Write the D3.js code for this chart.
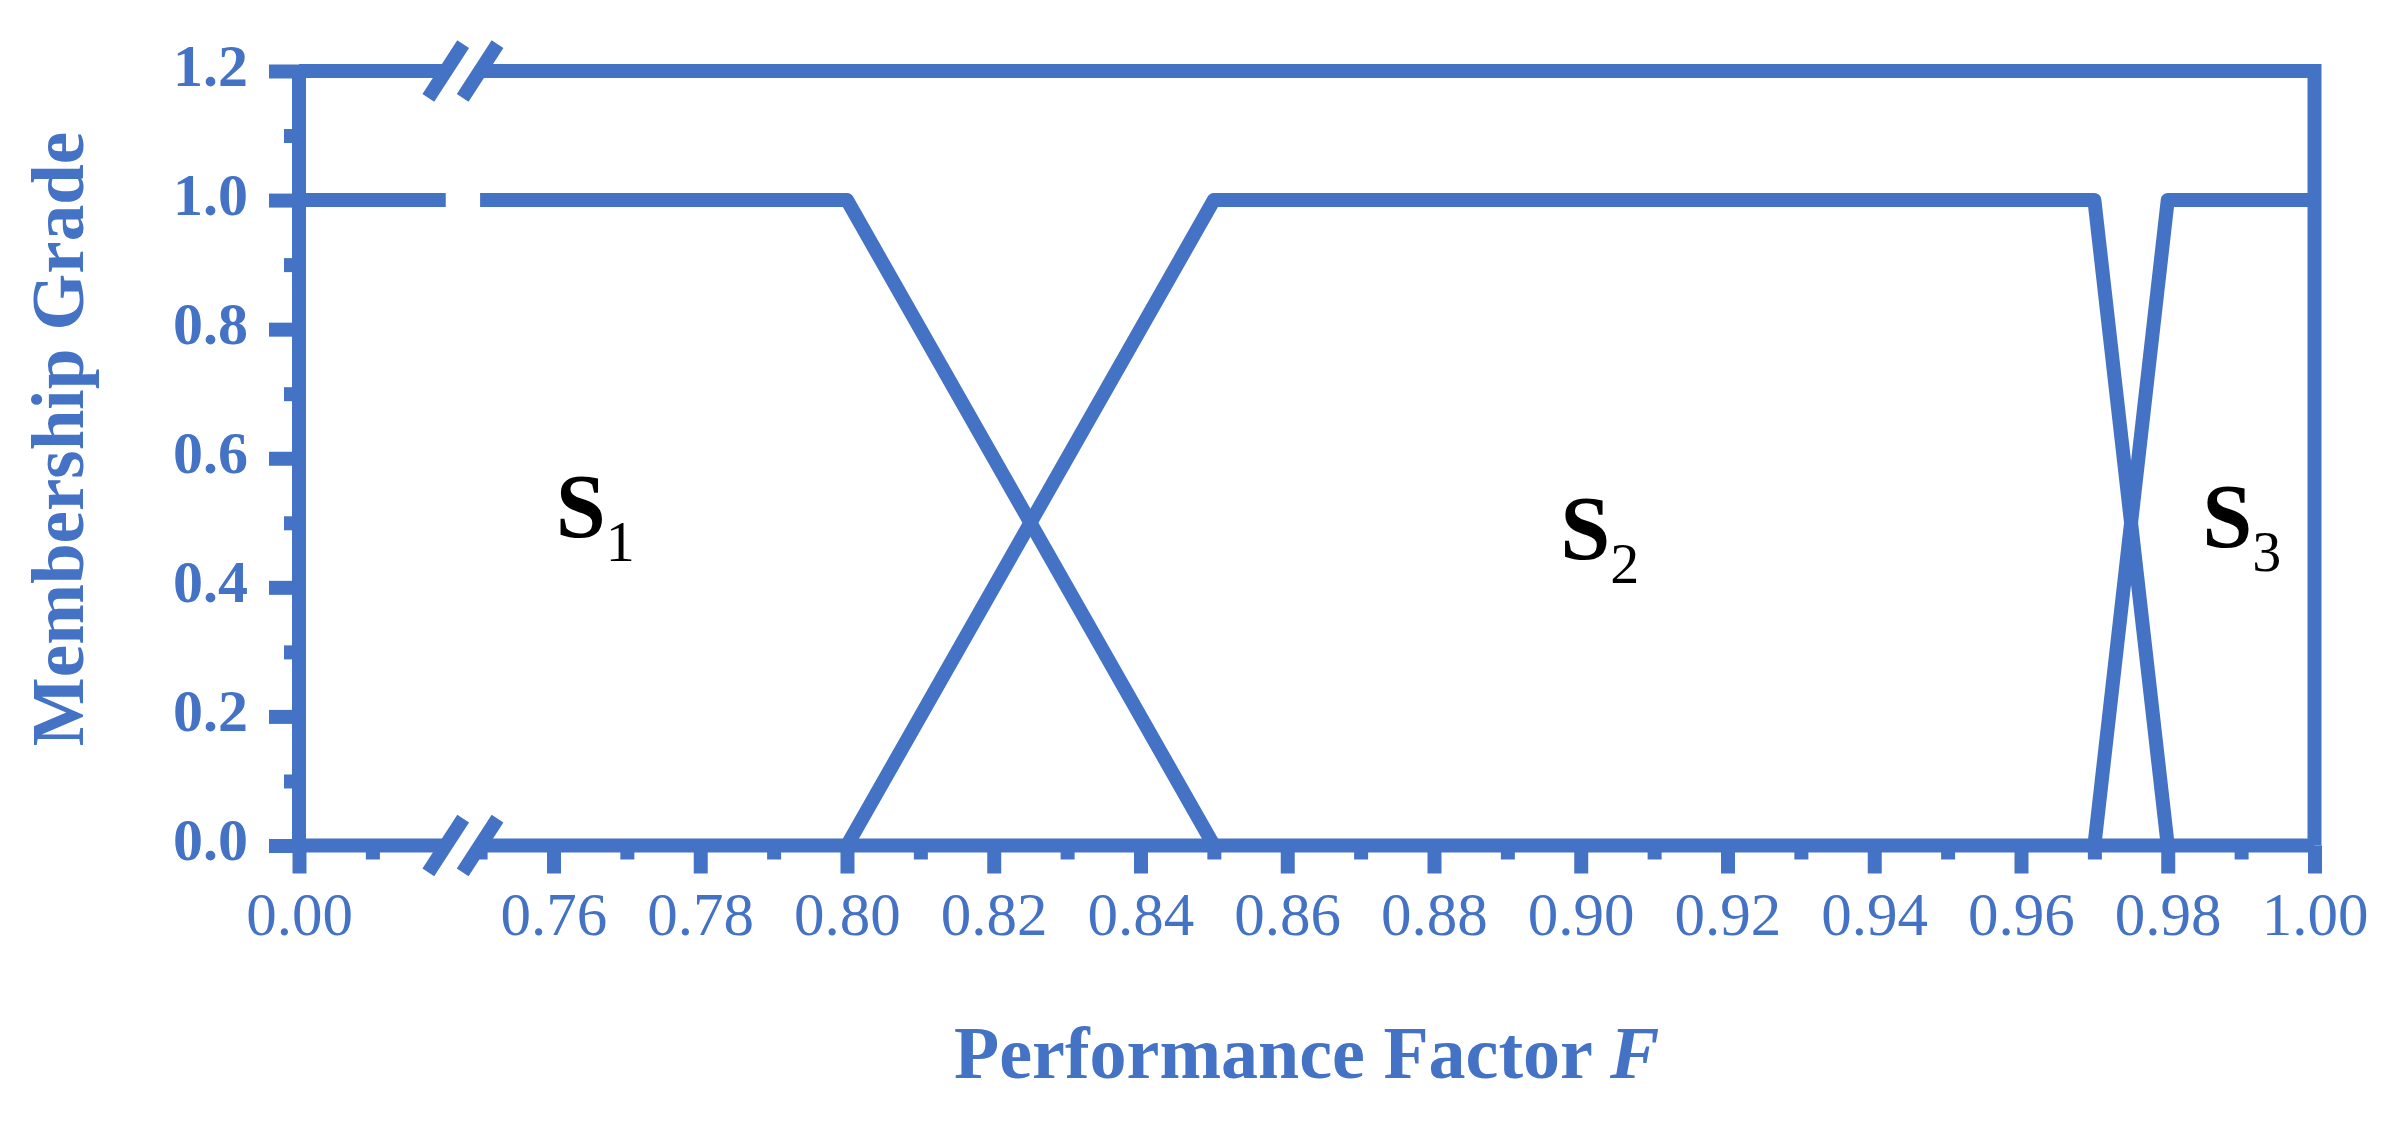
<!DOCTYPE html>
<html>
<head>
<meta charset="utf-8">
<script src="https://cdn.jsdelivr.net/npm/d3@7"></script>
<style>
  html, body { margin: 0; padding: 0; background: #ffffff; }
  svg { display: block; }
</style>
</head>
<body>
<svg id="chart" width="2396" height="1122"></svg>
<script>
// ---------- data ----------
const xBreak = [0.02, 0.75];                       // axis break (left piece ends, right piece starts)
const yMajorTicks = [0.0, 0.2, 0.4, 0.6, 0.8, 1.0, 1.2];
const yMinorTicks = [0.1, 0.3, 0.5, 0.7, 0.9, 1.1];
const xMajorTicks = [0.00, 0.76, 0.78, 0.80, 0.82, 0.84, 0.86, 0.88, 0.90, 0.92, 0.94, 0.96, 0.98, 1.00];
const xMinorTicks = [0.01, 0.75, 0.77, 0.79, 0.81, 0.83, 0.85, 0.87, 0.89, 0.91, 0.93, 0.95, 0.97, 0.99];
const s1Points = [{f: 0.00, m: 1}, {f: 0.80, m: 1}, {f: 0.85, m: 0}];
const s2Points = [{f: 0.80, m: 0}, {f: 0.85, m: 1}, {f: 0.97, m: 1}, {f: 0.98, m: 0}];
const s3Points = [{f: 0.97, m: 0}, {f: 0.98, m: 1}, {f: 1.00, m: 1}];
const setLabels = [
  {name: "S", sub: "1", f: 0.7603, m: 0.478},
  {name: "S", sub: "2", f: 0.8972, m: 0.444},
  {name: "S", sub: "3", f: 0.9847, m: 0.4625}
];
const xTitle = "Performance Factor ";
const xTitleVar = "F";
const yTitle = "Membership Grade";

// ---------- layout ----------
const W = 2396, H = 1122;
const BLUE = "#4472C4";
const SW = 14;
const FONT = "'Liberation Serif', 'Times New Roman', serif";

const x = d3.scaleLinear()
  .domain([0, xBreak[0], xBreak[1], 1.0])
  .range([299, 445.75, 480.1, 2314.5]);
const y = d3.scaleLinear().domain([0, 1.2]).range([845.5, 71]);

const svg = d3.select("#chart");
svg.append("rect").attr("width", W).attr("height", H).attr("fill", "#fff");

// clip that removes the break gap
const defs = svg.append("defs");
const cp = defs.append("clipPath").attr("id", "gap");
cp.append("rect").attr("x", 0).attr("y", 0).attr("width", x(xBreak[0])).attr("height", H);
cp.append("rect").attr("x", x(xBreak[1])).attr("y", 0).attr("width", W - x(xBreak[1])).attr("height", H);

const clipped = svg.append("g").attr("clip-path", "url(#gap)");

// frame
clipped.append("path")
  .attr("d", `M${x(0)},${y(1.2)}H${x(1)}V${y(0)}`)
  .attr("fill", "none").attr("stroke", BLUE).attr("stroke-width", SW)
  .attr("stroke-linejoin", "miter");
clipped.append("path")
  .attr("d", `M${x(0)},${y(0)}H${x(1)}`)
  .attr("fill", "none").attr("stroke", BLUE).attr("stroke-width", SW);
svg.append("path")
  .attr("d", `M${x(0)},${y(1.2)}V${y(0)}`)
  .attr("fill", "none").attr("stroke", BLUE).attr("stroke-width", SW);

// membership functions
const line = d3.line().x(d => x(d.f)).y(d => y(d.m));
[s1Points, s2Points, s3Points].forEach(pts => {
  clipped.append("path")
    .datum(pts)
    .attr("d", line)
    .attr("fill", "none")
    .attr("stroke", BLUE)
    .attr("stroke-width", SW)
    .attr("stroke-linejoin", "round");
});

// axes
function styleAxis(g) {
  g.select(".domain").remove();
  g.selectAll(".tick line").attr("stroke", BLUE).attr("stroke-width", SW);
  g.selectAll(".tick text").attr("fill", BLUE).attr("font-family", FONT);
}
const gyMinor = svg.append("g").attr("transform", `translate(${x(0)},0)`)
  .call(d3.axisLeft(y).tickValues(yMinorTicks).tickSize(15).tickFormat(""));
styleAxis(gyMinor);
const gyMajor = svg.append("g").attr("transform", `translate(${x(0)},0)`)
  .call(d3.axisLeft(y).tickValues(yMajorTicks).tickSize(30).tickPadding(21).tickFormat(d3.format(".1f")));
styleAxis(gyMajor);
gyMajor.selectAll(".tick text")
  .attr("dy", null).attr("y", 14)
  .attr("font-size", 60).attr("font-weight", "bold");

const gxMinor = svg.append("g").attr("transform", `translate(0,${y(0)})`)
  .call(d3.axisBottom(x).tickValues(xMinorTicks).tickSize(14).tickFormat(""));
styleAxis(gxMinor);
const gxMajor = svg.append("g").attr("transform", `translate(0,${y(0)})`)
  .call(d3.axisBottom(x).tickValues(xMajorTicks).tickSize(28).tickFormat(d3.format(".2f")));
styleAxis(gxMajor);
gxMajor.selectAll(".tick text")
  .attr("dy", null).attr("y", 89.5)
  .attr("font-size", 61).attr("font-weight", "normal");

// break marks
const ang = 57 * Math.PI / 180, L = 64;
[[xBreak[0], 1.2], [xBreak[1], 1.2], [xBreak[0], 0], [xBreak[1], 0]].forEach(([bf, bm]) => {
  const cx = x(bf), cy = y(bm);
  svg.append("line")
    .attr("x1", cx - L / 2 * Math.cos(ang)).attr("y1", cy + L / 2 * Math.sin(ang))
    .attr("x2", cx + L / 2 * Math.cos(ang)).attr("y2", cy - L / 2 * Math.sin(ang))
    .attr("stroke", BLUE).attr("stroke-width", SW);
});

// set labels
setLabels.forEach(d => {
  const t = svg.append("text")
    .attr("x", x(d.f)).attr("y", y(d.m))
    .attr("font-family", FONT).attr("fill", "#000");
  t.append("tspan").attr("font-size", 90).attr("font-weight", "bold").text(d.name);
  t.append("tspan").attr("font-size", 58).attr("dy", 24).text(d.sub);
});

// axis titles
const xt = svg.append("text")
  .attr("x", (x(0) + x(1)) / 2).attr("y", 1078)
  .attr("text-anchor", "middle")
  .attr("font-family", FONT).attr("font-size", 74).attr("font-weight", "bold")
  .attr("fill", BLUE);
xt.append("tspan").text(xTitle);
xt.append("tspan").attr("font-style", "italic").text(xTitleVar);

svg.append("text")
  .attr("transform", `translate(83,439) rotate(-90)`)
  .attr("text-anchor", "middle")
  .attr("font-family", FONT).attr("font-size", 73).attr("font-weight", "bold")
  .attr("fill", BLUE)
  .text(yTitle);
</script>
</body>
</html>
